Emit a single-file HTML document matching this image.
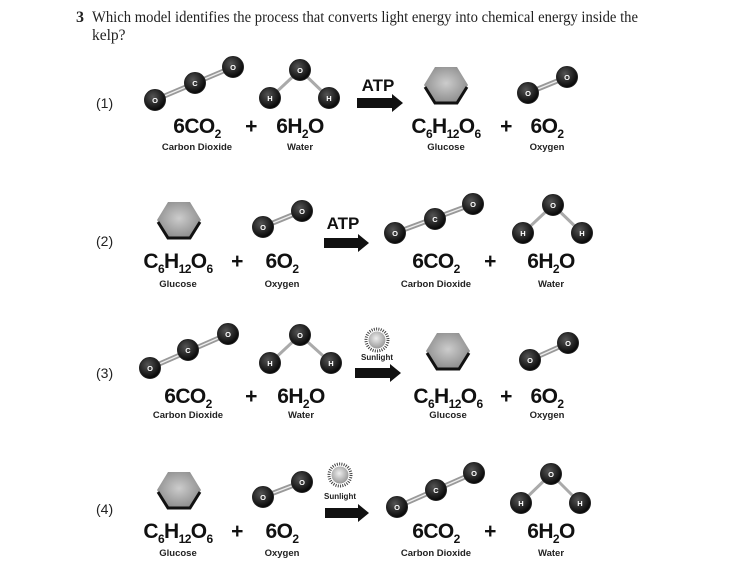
<!DOCTYPE html>
<html><head><meta charset="utf-8"><style>
html,body{margin:0;padding:0;background:#fff;}
svg{display:block;}
.t{font-family:"Liberation Serif",serif;font-size:15.5px;fill:#222;}
.f{font-family:"Liberation Sans",sans-serif;font-weight:bold;font-size:21px;fill:#111;text-anchor:middle;letter-spacing:-0.6px;}
.s{font-family:"Liberation Sans",sans-serif;font-weight:bold;font-size:9.5px;fill:#222;text-anchor:middle;}
.a{font-family:"Liberation Sans",sans-serif;font-weight:bold;font-size:7.5px;fill:#fff;text-anchor:middle;}
.n{font-family:"Liberation Sans",sans-serif;font-size:14px;fill:#222;}
.atp{font-family:"Liberation Sans",sans-serif;font-weight:bold;font-size:17px;fill:#111;text-anchor:middle;}
.sl{font-family:"Liberation Sans",sans-serif;font-weight:bold;font-size:8px;fill:#222;text-anchor:middle;}
</style></head><body>
<svg width="730" height="578" viewBox="0 0 730 578" xmlns="http://www.w3.org/2000/svg">
<defs>
<radialGradient id="at" cx="0.4" cy="0.35" r="0.7"><stop offset="0" stop-color="#555"/><stop offset="1" stop-color="#000"/></radialGradient>
<radialGradient id="hx" cx="0.5" cy="0.45" r="0.6"><stop offset="0" stop-color="#ccc"/><stop offset="1" stop-color="#888"/></radialGradient>
<radialGradient id="sn" cx="0.45" cy="0.4" r="0.6"><stop offset="0" stop-color="#eee"/><stop offset="1" stop-color="#999"/></radialGradient>
</defs>
<style>.bd{stroke:#999;stroke-width:5;}.bw{stroke:#eee;stroke-width:1.3;}.b1{stroke:#aaa;stroke-width:3;}.c{fill:url(#at);stroke:#222;stroke-width:1;}</style>

<text class="t" x="76" y="22"><tspan font-weight="bold" font-size="16">3</tspan></text>
<text class="t" x="92" y="22" textLength="546" lengthAdjust="spacingAndGlyphs">Which model identifies the process that converts light energy into chemical energy inside the</text>
<text class="t" x="92" y="40">kelp?</text>

<text class="n" x="96" y="108">(1)</text>
<text class="n" x="96" y="246">(2)</text>
<text class="n" x="96" y="378">(3)</text>
<text class="n" x="96" y="514">(4)</text>

<!-- ROW 1 -->
<g transform="translate(155,100)">
<line x1="0" y1="0" x2="78" y2="-33" class="bd"/><line x1="0" y1="0" x2="78" y2="-33" class="bw"/>
<circle r="10.5" class="c"/><text class="a" y="3">O</text>
<circle cx="40" cy="-17" r="10.5" class="c"/><text class="a" x="40" y="-14">C</text>
<circle cx="78" cy="-33" r="10.5" class="c"/><text class="a" x="78" y="-30">O</text></g>
<g transform="translate(300,70)">
<line x1="0" y1="0" x2="-30" y2="28" class="b1"/><line x1="0" y1="0" x2="29" y2="28" class="b1"/>
<circle r="10.5" class="c"/><text class="a" y="3">O</text>
<circle cx="-30" cy="28" r="10.5" class="c"/><text class="a" x="-30" y="31">H</text>
<circle cx="29" cy="28" r="10.5" class="c"/><text class="a" x="29" y="31">H</text></g>
<text class="atp" x="378" y="91">ATP</text>
<polygon points="357,98 392,98 392,94 403,103 392,112 392,108 357,108" fill="#111"/>
<g transform="translate(446,85)"><polygon points="-22,0 -11,-18 11,-18 22,0 11,18 -11,18" fill="url(#hx)"/><polyline points="-21,2 -11,18 11,18 21,2" fill="none" stroke="#111" stroke-width="3"/></g>
<g transform="translate(528,93)">
<line x1="0" y1="0" x2="39" y2="-16" class="bd"/><line x1="0" y1="0" x2="39" y2="-16" class="bw"/>
<circle r="10.5" class="c"/><text class="a" y="3">O</text>
<circle cx="39" cy="-16" r="10.5" class="c"/><text class="a" x="39" y="-13">O</text></g>
<text class="f" x="197" y="133">6CO<tspan font-size="12" dy="5">2</tspan></text>
<text class="f" x="251" y="133">+</text>
<text class="f" x="300" y="133">6H<tspan font-size="12" dy="5">2</tspan><tspan dy="-5">O</tspan></text>
<text class="f" x="446" y="133">C<tspan font-size="12" dy="5">6</tspan><tspan dy="-5">H</tspan><tspan font-size="12" dy="5">12</tspan><tspan dy="-5">O</tspan><tspan font-size="12" dy="5">6</tspan></text>
<text class="f" x="506" y="133">+</text>
<text class="f" x="547" y="133">6O<tspan font-size="12" dy="5">2</tspan></text>
<text class="s" x="197" y="150">Carbon Dioxide</text>
<text class="s" x="300" y="150">Water</text>
<text class="s" x="446" y="150">Glucose</text>
<text class="s" x="547" y="150">Oxygen</text>

<!-- ROW 2 -->
<g transform="translate(179,220)"><polygon points="-22,0 -11,-18 11,-18 22,0 11,18 -11,18" fill="url(#hx)"/><polyline points="-21,2 -11,18 11,18 21,2" fill="none" stroke="#111" stroke-width="3"/></g>
<g transform="translate(263,227)">
<line x1="0" y1="0" x2="39" y2="-16" class="bd"/><line x1="0" y1="0" x2="39" y2="-16" class="bw"/>
<circle r="10.5" class="c"/><text class="a" y="3">O</text>
<circle cx="39" cy="-16" r="10.5" class="c"/><text class="a" x="39" y="-13">O</text></g>
<text class="atp" x="343" y="229">ATP</text>
<polygon points="324,238 358,238 358,234 369,243 358,252 358,248 324,248" fill="#111"/>
<g transform="translate(395,233)">
<line x1="0" y1="0" x2="78" y2="-29" class="bd"/><line x1="0" y1="0" x2="78" y2="-29" class="bw"/>
<circle r="10.5" class="c"/><text class="a" y="3">O</text>
<circle cx="40" cy="-14" r="10.5" class="c"/><text class="a" x="40" y="-11">C</text>
<circle cx="78" cy="-29" r="10.5" class="c"/><text class="a" x="78" y="-26">O</text></g>
<g transform="translate(553,205)">
<line x1="0" y1="0" x2="-30" y2="28" class="b1"/><line x1="0" y1="0" x2="29" y2="28" class="b1"/>
<circle r="10.5" class="c"/><text class="a" y="3">O</text>
<circle cx="-30" cy="28" r="10.5" class="c"/><text class="a" x="-30" y="31">H</text>
<circle cx="29" cy="28" r="10.5" class="c"/><text class="a" x="29" y="31">H</text></g>
<text class="f" x="178" y="268">C<tspan font-size="12" dy="5">6</tspan><tspan dy="-5">H</tspan><tspan font-size="12" dy="5">12</tspan><tspan dy="-5">O</tspan><tspan font-size="12" dy="5">6</tspan></text>
<text class="f" x="237" y="268">+</text>
<text class="f" x="282" y="268">6O<tspan font-size="12" dy="5">2</tspan></text>
<text class="f" x="436" y="268">6CO<tspan font-size="12" dy="5">2</tspan></text>
<text class="f" x="490" y="268">+</text>
<text class="f" x="551" y="268">6H<tspan font-size="12" dy="5">2</tspan><tspan dy="-5">O</tspan></text>
<text class="s" x="178" y="287">Glucose</text>
<text class="s" x="282" y="287">Oxygen</text>
<text class="s" x="436" y="287">Carbon Dioxide</text>
<text class="s" x="551" y="287">Water</text>

<!-- ROW 3 -->
<g transform="translate(150,368)">
<line x1="0" y1="0" x2="78" y2="-34" class="bd"/><line x1="0" y1="0" x2="78" y2="-34" class="bw"/>
<circle r="10.5" class="c"/><text class="a" y="3">O</text>
<circle cx="38" cy="-18" r="10.5" class="c"/><text class="a" x="38" y="-15">C</text>
<circle cx="78" cy="-34" r="10.5" class="c"/><text class="a" x="78" y="-31">O</text></g>
<g transform="translate(300,335)">
<line x1="0" y1="0" x2="-30" y2="28" class="b1"/><line x1="0" y1="0" x2="31" y2="28" class="b1"/>
<circle r="10.5" class="c"/><text class="a" y="3">O</text>
<circle cx="-30" cy="28" r="10.5" class="c"/><text class="a" x="-30" y="31">H</text>
<circle cx="31" cy="28" r="10.5" class="c"/><text class="a" x="31" y="31">H</text></g>
<circle cx="377" cy="340" r="11" fill="none" stroke="#444" stroke-width="3" stroke-dasharray="1 1.3"/>
<circle cx="377" cy="340" r="8.5" fill="url(#sn)"/>
<text class="sl" x="377" y="360">Sunlight</text>
<polygon points="355,368 390,368 390,364 401,373 390,382 390,378 355,378" fill="#111"/>
<g transform="translate(448,351)"><polygon points="-22,0 -11,-18 11,-18 22,0 11,18 -11,18" fill="url(#hx)"/><polyline points="-21,2 -11,18 11,18 21,2" fill="none" stroke="#111" stroke-width="3"/></g>
<g transform="translate(530,360)">
<line x1="0" y1="0" x2="38" y2="-17" class="bd"/><line x1="0" y1="0" x2="38" y2="-17" class="bw"/>
<circle r="10.5" class="c"/><text class="a" y="3">O</text>
<circle cx="38" cy="-17" r="10.5" class="c"/><text class="a" x="38" y="-14">O</text></g>
<text class="f" x="188" y="403">6CO<tspan font-size="12" dy="5">2</tspan></text>
<text class="f" x="251" y="403">+</text>
<text class="f" x="301" y="403">6H<tspan font-size="12" dy="5">2</tspan><tspan dy="-5">O</tspan></text>
<text class="f" x="448" y="403">C<tspan font-size="12" dy="5">6</tspan><tspan dy="-5">H</tspan><tspan font-size="12" dy="5">12</tspan><tspan dy="-5">O</tspan><tspan font-size="12" dy="5">6</tspan></text>
<text class="f" x="506" y="403">+</text>
<text class="f" x="547" y="403">6O<tspan font-size="12" dy="5">2</tspan></text>
<text class="s" x="188" y="418">Carbon Dioxide</text>
<text class="s" x="301" y="418">Water</text>
<text class="s" x="448" y="418">Glucose</text>
<text class="s" x="547" y="418">Oxygen</text>

<!-- ROW 4 -->
<g transform="translate(179,490)"><polygon points="-22,0 -11,-18 11,-18 22,0 11,18 -11,18" fill="url(#hx)"/><polyline points="-21,2 -11,18 11,18 21,2" fill="none" stroke="#111" stroke-width="3"/></g>
<g transform="translate(263,497)">
<line x1="0" y1="0" x2="39" y2="-15" class="bd"/><line x1="0" y1="0" x2="39" y2="-15" class="bw"/>
<circle r="10.5" class="c"/><text class="a" y="3">O</text>
<circle cx="39" cy="-15" r="10.5" class="c"/><text class="a" x="39" y="-12">O</text></g>
<circle cx="340" cy="475" r="11" fill="none" stroke="#444" stroke-width="3" stroke-dasharray="1 1.3"/>
<circle cx="340" cy="475" r="8.5" fill="url(#sn)"/>
<text class="sl" x="340" y="499">Sunlight</text>
<polygon points="325,508 358,508 358,504 369,513 358,522 358,518 325,518" fill="#111"/>
<g transform="translate(397,507)">
<line x1="0" y1="0" x2="77" y2="-34" class="bd"/><line x1="0" y1="0" x2="77" y2="-34" class="bw"/>
<circle r="10.5" class="c"/><text class="a" y="3">O</text>
<circle cx="39" cy="-17" r="10.5" class="c"/><text class="a" x="39" y="-14">C</text>
<circle cx="77" cy="-34" r="10.5" class="c"/><text class="a" x="77" y="-31">O</text></g>
<g transform="translate(551,474)">
<line x1="0" y1="0" x2="-30" y2="29" class="b1"/><line x1="0" y1="0" x2="29" y2="29" class="b1"/>
<circle r="10.5" class="c"/><text class="a" y="3">O</text>
<circle cx="-30" cy="29" r="10.5" class="c"/><text class="a" x="-30" y="32">H</text>
<circle cx="29" cy="29" r="10.5" class="c"/><text class="a" x="29" y="32">H</text></g>
<text class="f" x="178" y="538">C<tspan font-size="12" dy="5">6</tspan><tspan dy="-5">H</tspan><tspan font-size="12" dy="5">12</tspan><tspan dy="-5">O</tspan><tspan font-size="12" dy="5">6</tspan></text>
<text class="f" x="237" y="538">+</text>
<text class="f" x="282" y="538">6O<tspan font-size="12" dy="5">2</tspan></text>
<text class="f" x="436" y="538">6CO<tspan font-size="12" dy="5">2</tspan></text>
<text class="f" x="490" y="538">+</text>
<text class="f" x="551" y="538">6H<tspan font-size="12" dy="5">2</tspan><tspan dy="-5">O</tspan></text>
<text class="s" x="178" y="556">Glucose</text>
<text class="s" x="282" y="556">Oxygen</text>
<text class="s" x="436" y="556">Carbon Dioxide</text>
<text class="s" x="551" y="556">Water</text>
</svg>
</body></html>
